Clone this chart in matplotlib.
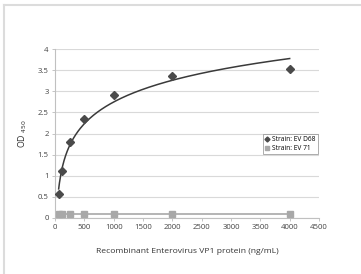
import numpy as np
import matplotlib
matplotlib.use('Agg')
import matplotlib.pyplot as plt
from matplotlib.lines import Line2D

conc = [62.5, 125, 250, 500, 1000, 2000, 4000]
od_d68 = [0.57, 1.12, 1.81, 2.35, 2.90, 3.35, 3.52]
od_ev71 = [0.09, 0.09, 0.09, 0.09, 0.09, 0.09, 0.09]
xticks = [0, 500, 1000, 1500, 2000, 2500, 3000, 3500, 4000, 4500]
yticks = [0, 0.5, 1, 1.5, 2, 2.5, 3, 3.5, 4]

plt.rcParams['font.family'] = ['Open Sans', 'DejaVu Sans']

W, H = 361, 274
fig = plt.figure(figsize=(W/100, H/100), dpi=100)
ax = fig.add_axes([55/W, 1-218/H, (319-55)/W, (218-49)/H])

# log trendline
a, b = np.polyfit(np.log(conc), od_d68, 1)
xx = np.linspace(conc[0], conc[-1], 300)
ax.plot(xx, a*np.log(xx) + b, color='#3a3a3a', lw=1.1, zorder=3)

ax.plot(conc, od_d68, ls='none', marker='D', ms=3.6, color='#4a4a4a',
        label='Strain: EV D68', zorder=4)
ax.plot(conc, od_ev71, ls='-', lw=1.2, marker='s', ms=4.5, color='#a8a8a8',
        label='Strain: EV 71', zorder=4)

ax.set_xlim(0, 4500)
ax.set_ylim(0, 4)
ax.set_xticks(xticks)
ax.set_yticks(yticks)
ax.set_xticklabels([str(v) for v in xticks])
ax.set_yticklabels(['0', '0.5', '1', '1.5', '2', '2.5', '3', '3.5', '4'])
ax.tick_params(labelsize=5.6, colors='#444444', length=2.5, width=0.6, pad=2)
ax.tick_params(axis='x', color='#bbbbbb')
ax.tick_params(axis='y', color='#bbbbbb')
ax.grid(axis='y', color='#d9d9d9', lw=0.8)
ax.set_axisbelow(True)
for s in ['top', 'right']:
    ax.spines[s].set_visible(False)
ax.spines['left'].set_color('#c0c0c0')
ax.spines['bottom'].set_color('#c0c0c0')
ax.spines['left'].set_linewidth(0.8)
ax.spines['bottom'].set_linewidth(0.8)

ax.set_xlabel('Recombinant Enterovirus VP1 protein (ng/mL)', fontsize=6.1,
              color='#333333', labelpad=12)
ax.set_ylabel('OD $_{450}$', fontsize=6.3, color='#333333', labelpad=6)

leg = ax.legend(loc='upper left', bbox_to_anchor=((263-55)/264, (218-134)/169),
                fontsize=4.8, frameon=True, fancybox=False, borderpad=0.35,
                handlelength=0.6, handletextpad=0.4, labelspacing=0.25,
                markerscale=0.7, borderaxespad=0)
leg.get_frame().set_edgecolor('#888888')
leg.get_frame().set_linewidth(0.6)
for h in leg.legend_handles:
    h.set_linestyle('none')

# light frame around the picture
fig.add_artist(Line2D([4/W, 4/W], [0, 1-5/H], color='#dcdcdc', lw=1.5))
fig.add_artist(Line2D([4/W, 1], [1-5/H, 1-5/H], color='#dcdcdc', lw=1.5))

fig.savefig('out.png', dpi=100)
